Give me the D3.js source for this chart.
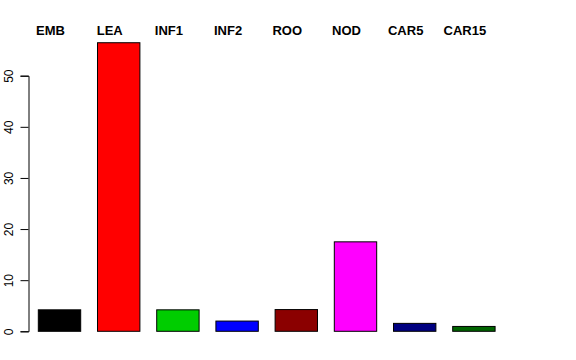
<!DOCTYPE html>
<html>
<head>
<meta charset="utf-8">
<script src="https://cdn.jsdelivr.net/npm/d3@7"></script>
<style>
  body { margin: 0; background: #fff; }
  svg { display: block; }
</style>
</head>
<body>
<div id="chart"></div>
<script>
var categories = ["EMB", "LEA", "INF1", "INF2", "ROO", "NOD", "CAR5", "CAR15"];
var values = [4.2, 56.45, 4.2, 2.0, 4.25, 17.5, 1.55, 0.95];
var colors = ["#000000", "#ff0000", "#00cd00", "#0000ff", "#8b0000", "#ff00ff", "#000080", "#006400"];
var yTicks = [0, 10, 20, 30, 40, 50];

var width = 576, height = 360;

var svg = d3.select("#chart")
  .append("svg")
  .attr("width", width)
  .attr("height", height)

var x = d3.scaleBand()
  .domain(categories)
  .range([21.5, 511.9])
  .paddingInner(0.284)
  .paddingOuter(0.284)

var y = d3.scaleLinear()
  .domain([0, 50])
  .range([331.3, 75.7])

svg.append("g")
  .selectAll("rect")
  .data(categories).enter().append("rect")
    .attr("x", function(d){ return x(d) })
    .attr("y", function(d, i){ return y(values[i]) })
    .attr("width", x.bandwidth())
    .attr("height", function(d, i){ return y(0) - y(values[i]) })
    .attr("fill", function(d, i){ return colors[i] })
    .attr("stroke", "#000")
    .attr("stroke-width", 1)

var yAxis = svg.append("g")
  .attr("transform", "translate(28.5,0)")
  .call(d3.axisLeft(y).tickValues(yTicks).tickSize(8))

yAxis.select(".domain").attr("stroke", "#000")
yAxis.selectAll("line").attr("stroke", "#000")
yAxis.selectAll("text")
  .attr("font-family", "Liberation Sans, Arial, sans-serif")
  .attr("font-size", 12)
  .attr("fill", "#000")
  .attr("text-anchor", "middle")
  .attr("x", null)
  .attr("dy", null)
  .attr("transform", "translate(-16,0) rotate(-90)")

// labels sit a little left of the bar centres, as in the original
svg.append("g")
  .selectAll("text")
  .data(categories).enter().append("text")
    .attr("x", function(d){ return x(d) + x.bandwidth() / 2 - 9 })
    .attr("y", 35)
    .attr("text-anchor", "middle")
    .attr("font-family", "Liberation Sans, Arial, sans-serif")
    .attr("font-weight", "bold")
    .attr("font-size", 13)
    .text(function(d){ return d })
</script>
</body>
</html>
